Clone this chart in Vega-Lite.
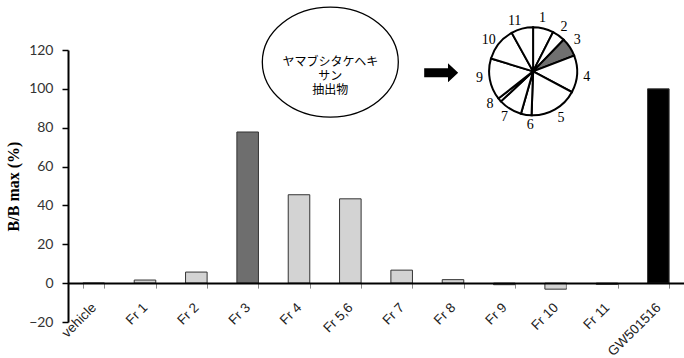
{
  "$schema": "https://vega.github.io/schema/vega-lite/v6.json",
  "width": 616,
  "height": 272,
  "autosize": "none",
  "padding": {"left": 68, "top": 50, "right": 0, "bottom": 36},
  "background": "white",
  "config": {
    "view": {"stroke": null},
    "axisY": {
      "labelOverlap": false, "labelFlush": false, "labelBound": false,
      "grid": false, "domainColor": "#000000", "domainWidth": 2,
      "tickColor": "#000000", "tickWidth": 1.5, "tickSize": 6,
      "labelFont": "Lato", "labelFontSize": 14, "labelColor": "#333333", "labelPadding": 9,
      "titleFont": "Liberation Serif", "titleFontSize": 16,
      "titleFontWeight": "bold", "titleColor": "#000000", "titlePadding": 7
    }
  },
  "datasets": {
    "bars": [
      {"sample": "vehicle", "value": 0, "kind": "fraction"},
      {"sample": "Fr 1", "value": 1.6, "kind": "fraction"},
      {"sample": "Fr 2", "value": 5.7, "kind": "fraction"},
      {"sample": "Fr 3", "value": 77.8, "kind": "active"},
      {"sample": "Fr 4", "value": 45.5, "kind": "fraction"},
      {"sample": "Fr 5,6", "value": 43.4, "kind": "fraction"},
      {"sample": "Fr 7", "value": 6.7, "kind": "fraction"},
      {"sample": "Fr 8", "value": 1.8, "kind": "fraction"},
      {"sample": "Fr 9", "value": -0.8, "kind": "fraction"},
      {"sample": "Fr 10", "value": -3.1, "kind": "fraction"},
      {"sample": "Fr 11", "value": -0.6, "kind": "fraction"},
      {"sample": "GW501516", "value": 100, "kind": "control"}
    ],
    "wedges": [
      {"frac": "1", "start": 0, "end": 27, "active": "no", "labelAngle": 10},
      {"frac": "2", "start": 27, "end": 44, "active": "no", "labelAngle": 35},
      {"frac": "3", "start": 44, "end": 69, "active": "yes", "labelAngle": 55},
      {"frac": "4", "start": 69, "end": 118, "active": "no", "labelAngle": 96},
      {"frac": "5", "start": 118, "end": 182, "active": "no", "labelAngle": 149},
      {"frac": "6", "start": 182, "end": 196, "active": "no", "labelAngle": 183},
      {"frac": "7", "start": 196, "end": 227, "active": "no", "labelAngle": 212},
      {"frac": "8", "start": 227, "end": 232, "active": "no", "labelAngle": 233},
      {"frac": "9", "start": 232, "end": 287, "active": "no", "labelAngle": 263},
      {"frac": "10", "start": 287, "end": 331, "active": "no", "labelAngle": 305},
      {"frac": "11", "start": 331, "end": 360, "active": "no", "labelAngle": 340}
    ]
  },
  "resolve": {"scale": {"x": "independent", "color": "independent"}, "axis": {"x": "independent"}},
  "layer": [
    {
      "data": {"name": "bars"},
      "mark": {"type": "bar", "stroke": "#333333", "strokeWidth": 1},
      "encoding": {
        "x": {
          "field": "sample", "type": "nominal", "sort": null,
          "scale": {"paddingInner": 0.58, "paddingOuter": 0.29},
          "axis": {
            "title": null, "orient": "bottom", "offset": -38.9, "zindex": 2,
            "domainColor": "#000000", "domainWidth": 2,
            "tickBand": "extent", "tickColor": "#888888", "tickWidth": 1, "tickSize": 5,
            "labelAngle": -45, "labelAlign": "right", "labelBaseline": "middle",
            "labelFont": "Liberation Sans", "labelFontSize": 13.5, "labelColor": "#222222",
            "labelPadding": 17, "labelOverlap": false
          }
        },
        "y": {
          "field": "value", "type": "quantitative",
          "scale": {"domain": [-20, 120], "nice": false, "zero": false},
          "axis": {"title": "B/B max (%)", "values": [-20, 0, 20, 40, 60, 80, 100, 120], "labelOverlap": false, "domainColor": "#000000", "domainWidth": 2, "tickColor": "#000000", "tickWidth": 1.5, "tickSize": 6, "zindex": 2}
        },
        "color": {
          "field": "kind", "type": "nominal", "legend": null,
          "scale": {"domain": ["fraction", "active", "control"], "range": ["#d3d3d3", "#6e6e6e", "#000000"]}
        }
      }
    },
    {
      "data": {"values": [{}]},
      "mark": {"type": "point", "shape": "M-1,0A1,0.809,0,1,0,1,0A1,0.809,0,1,0,-1,0Z", "size": 18496, "filled": false, "stroke": "#000000", "strokeWidth": 1.3, "opacity": 1},
      "encoding": {
        "x": {"datum": 5.11, "type": "quantitative", "scale": {"domain": [0, 12], "nice": false, "zero": false}, "axis": null},
        "y": {"datum": 113.8, "type": "quantitative", "scale": {"domain": [-20, 120], "nice": false, "zero": false}, "axis": {"title": "B/B max (%)", "values": [-20, 0, 20, 40, 60, 80, 100, 120], "labelOverlap": false, "domainColor": "#000000", "domainWidth": 2, "tickColor": "#000000", "tickWidth": 1.5, "tickSize": 6, "zindex": 2}}
      }
    },
    {
      "data": {"values": [{}]},
      "mark": {"type": "text", "text": ["ヤマブシタケヘキ", "サン", "抽出物"], "lineHeight": 14, "font": "Noto Sans CJK JP", "fontSize": 12, "fill": "#000000", "align": "center", "baseline": "middle"},
      "encoding": {
        "x": {"datum": 5.11, "type": "quantitative", "scale": {"domain": [0, 12], "nice": false, "zero": false}, "axis": null},
        "y": {"datum": 113.8, "type": "quantitative", "scale": {"domain": [-20, 120], "nice": false, "zero": false}, "axis": {"title": "B/B max (%)", "values": [-20, 0, 20, 40, 60, 80, 100, 120], "labelOverlap": false, "domainColor": "#000000", "domainWidth": 2, "tickColor": "#000000", "tickWidth": 1.5, "tickSize": 6, "zindex": 2}}
      }
    },
    {
      "data": {"values": [{}]},
      "mark": {"type": "point", "shape": "M-1,-0.26L0.4,-0.26L0.4,-0.56L1,0L0.4,0.56L0.4,0.26L-1,0.26Z", "size": 1156, "filled": true, "color": "#000000", "opacity": 1},
      "encoding": {
        "x": {"datum": 7.27, "type": "quantitative", "scale": {"domain": [0, 12], "nice": false, "zero": false}, "axis": null},
        "y": {"datum": 108.3, "type": "quantitative", "scale": {"domain": [-20, 120], "nice": false, "zero": false}, "axis": {"title": "B/B max (%)", "values": [-20, 0, 20, 40, 60, 80, 100, 120], "labelOverlap": false, "domainColor": "#000000", "domainWidth": 2, "tickColor": "#000000", "tickWidth": 1.5, "tickSize": 6, "zindex": 2}}
      }
    },
    {
      "data": {"name": "wedges"},
      "mark": {"type": "arc", "radius": 44, "stroke": "#000000", "strokeWidth": 2},
      "encoding": {
        "x": {"datum": 9.06, "type": "quantitative", "scale": {"domain": [0, 12], "nice": false, "zero": false}, "axis": null},
        "y": {"datum": 109, "type": "quantitative", "scale": {"domain": [-20, 120], "nice": false, "zero": false}, "axis": {"title": "B/B max (%)", "values": [-20, 0, 20, 40, 60, 80, 100, 120], "labelOverlap": false, "domainColor": "#000000", "domainWidth": 2, "tickColor": "#000000", "tickWidth": 1.5, "tickSize": 6, "zindex": 2}},
        "theta": {"field": "start", "type": "quantitative", "stack": null, "scale": {"domain": [0, 360], "range": [0, 6.283185307]}},
        "theta2": {"field": "end"},
        "fill": {"field": "active", "type": "nominal", "legend": null, "scale": {"domain": ["no", "yes"], "range": ["#ffffff", "#707070"]}}
      }
    },
    {
      "data": {"name": "wedges"},
      "mark": {"type": "text", "radius": 54, "font": "Liberation Serif", "fontSize": 14, "fill": "#000000", "align": "center", "baseline": "middle"},
      "encoding": {
        "x": {"datum": 9.06, "type": "quantitative", "scale": {"domain": [0, 12], "nice": false, "zero": false}, "axis": null},
        "y": {"datum": 109, "type": "quantitative", "scale": {"domain": [-20, 120], "nice": false, "zero": false}, "axis": {"title": "B/B max (%)", "values": [-20, 0, 20, 40, 60, 80, 100, 120], "labelOverlap": false, "domainColor": "#000000", "domainWidth": 2, "tickColor": "#000000", "tickWidth": 1.5, "tickSize": 6, "zindex": 2}},
        "theta": {"field": "labelAngle", "type": "quantitative", "stack": null, "scale": {"domain": [0, 360], "range": [0, 6.283185307]}},
        "text": {"field": "frac", "type": "nominal"}
      }
    }
  ]
}
